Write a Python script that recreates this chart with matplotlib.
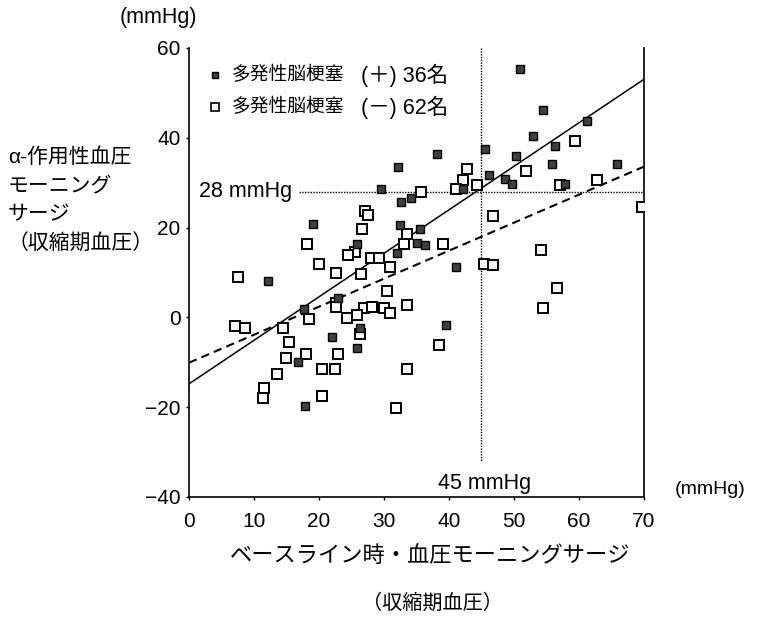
import numpy as np
import matplotlib.pyplot as plt

plt.rcParams['font.family'] = ['Liberation Sans', 'Noto Sans CJK JP', 'DejaVu Sans']

# 多発性脳梗塞 (+)
pos_x = [50.9, 54.4, 52.9, 61.3, 56.3, 50.3, 45.5, 46.2, 48.6, 49.7, 55.8, 65.8,
         57.8, 38.2, 32.2, 42.2, 29.6, 34.1, 32.6, 32.5, 35.6, 35.1, 36.3, 25.9,
         32.0, 41.1, 19.1, 12.1, 23.0, 17.7, 26.3, 22.0, 25.9, 16.8, 39.5, 17.8]
pos_y = [55.4, 46.2, 40.4, 43.8, 38.2, 35.9, 37.4, 31.8, 30.9, 29.8, 34.2, 34.1,
         29.6, 36.4, 33.6, 28.5, 28.5, 26.5, 25.8, 20.6, 19.7, 16.5, 16.1, 16.3,
         14.3, 11.3, 20.7, 8.1, 4.4, 1.8, -2.3, -4.4, -6.8, -10.0, -1.6, -19.8]

# 多発性脳梗塞 (-)
neg_x = [59.4, 51.8, 62.8, 57.1, 46.7, 69.7, 42.7, 42.2, 41.1, 44.3, 35.7, 27.1,
         27.6, 26.6, 33.6, 33.1, 39.1, 25.5, 24.5, 28.0, 29.2, 31.0, 45.4, 46.7,
         26.4, 18.1, 20.0, 22.6, 7.6, 22.6, 22.6, 18.4, 7.1, 8.6, 14.5, 24.3,
         30.5, 33.5, 27.0, 28.1, 30.0, 31.0, 25.8, 26.3, 15.4, 23.0, 18.0, 14.9,
         20.4, 22.4, 13.5, 33.5, 38.5, 11.5, 11.4, 20.4, 31.8, 54.2, 56.6, 54.5]
neg_y = [39.3, 32.5, 30.7, 29.5, 22.6, 24.6, 33.0, 30.6, 28.5, 29.5, 27.9, 23.7,
         22.7, 19.6, 18.6, 16.3, 16.3, 14.5, 13.9, 13.3, 13.3, 11.3, 11.8, 11.6,
         9.6, 16.3, 11.8, 9.8, 8.9, 3.3, 2.4, -0.4, -1.9, -2.3, -2.4, -0.2,
         5.8, 2.7, 2.2, 2.4, 2.0, 0.9, 0.5, -3.8, -5.5, -8.2, -8.1, -9.1,
         -11.6, -11.6, -12.7, -11.4, -6.2, -15.7, -17.9, -17.4, -20.1, 15.1, 6.6, 2.2]

# 回帰直線 (切片, 傾き)
fit_pos = (-14.8, 0.969)
fit_neg = (-10.1, 0.624)

ylabel_lines = ['α-作用性血圧', 'モーニング', 'サージ', '（収縮期血圧）']

fig = plt.figure(figsize=(7.58, 6.2), dpi=100)
ax = fig.add_axes([0.2493, 0.1984, 0.6003, 0.7242])

ax.plot(neg_x, neg_y, 's', ms=7.2, mfc='white', mec='black', mew=1.4, ls='none', zorder=3)
ax.plot(pos_x, pos_y, 's', ms=6, mfc='#404040', mec='black', mew=1.0, ls='none', zorder=4)

xs = np.array([0, 70])
ax.plot(xs, fit_pos[0] + fit_pos[1] * xs, color='black', lw=1.1, zorder=2)
ax.plot(xs, fit_neg[0] + fit_neg[1] * xs, color='black', lw=1.5, ls=(0, (4, 2.5)), zorder=2)

# カットオフ線
ax.plot([16.9, 70], [28, 28], color='black', lw=1, ls=(0, (1, 1)), zorder=1)
ax.plot([45, 45], [60, -32], color='black', lw=1, ls=(0, (1, 1)), zorder=1)
ax.text(1.6, 28, '28 mmHg', fontsize=15.5, va='center', ha='left')
ax.text(45.5, -37, '45 mmHg', fontsize=15.5, va='center', ha='center')

# 凡例
ax.plot([4.0], [53.9], 's', ms=5, mfc='#404040', mec='black', mew=1.0)
ax.plot([4.0], [46.8], 's', ms=6, mfc='white', mec='black', mew=1.2)
for yy, sign, n in [(53.9, '＋', 36), (46.8, '－', 62)]:
    ax.text(6.6, yy, '多発性脳梗塞', fontsize=13.5, va='center', ha='left')
    ax.text(26.5, yy, f'({sign}) {n}名', fontsize=15.5, va='center', ha='left')

ax.set_xlim(0, 70)
ax.set_ylim(-40, 60)
ax.set_xticks(range(0, 71, 10))
ax.set_yticks(range(-40, 61, 20))
ax.tick_params(labelsize=15, length=2.5, width=1)
ax.tick_params(axis='x', pad=8)
ax.spines['top'].set_visible(False)
for s in ['left', 'bottom', 'right']:
    ax.spines[s].set_linewidth(1.2)

fig.text(158 / 758, 1 - 18 / 620, '(mmHg)', fontsize=15.5, ha='center', va='center')
fig.text(710 / 758, 1 - 490 / 620, '(mmHg)', fontsize=14, ha='center', va='center')

for i, line in enumerate(ylabel_lines):
    fig.text(8 / 758, 1 - (157 + 29 * i) / 620, line,
             fontsize=15, ha='left', va='center')

fig.text(430 / 758, 1 - 557 / 620, 'ベースライン時・血圧モーニングサージ',
         fontsize=16, ha='center', va='center')
fig.text(432 / 758, 1 - 603 / 620, '（収縮期血圧）',
         fontsize=14.5, ha='center', va='center')

fig.savefig('out.png', dpi=100)
